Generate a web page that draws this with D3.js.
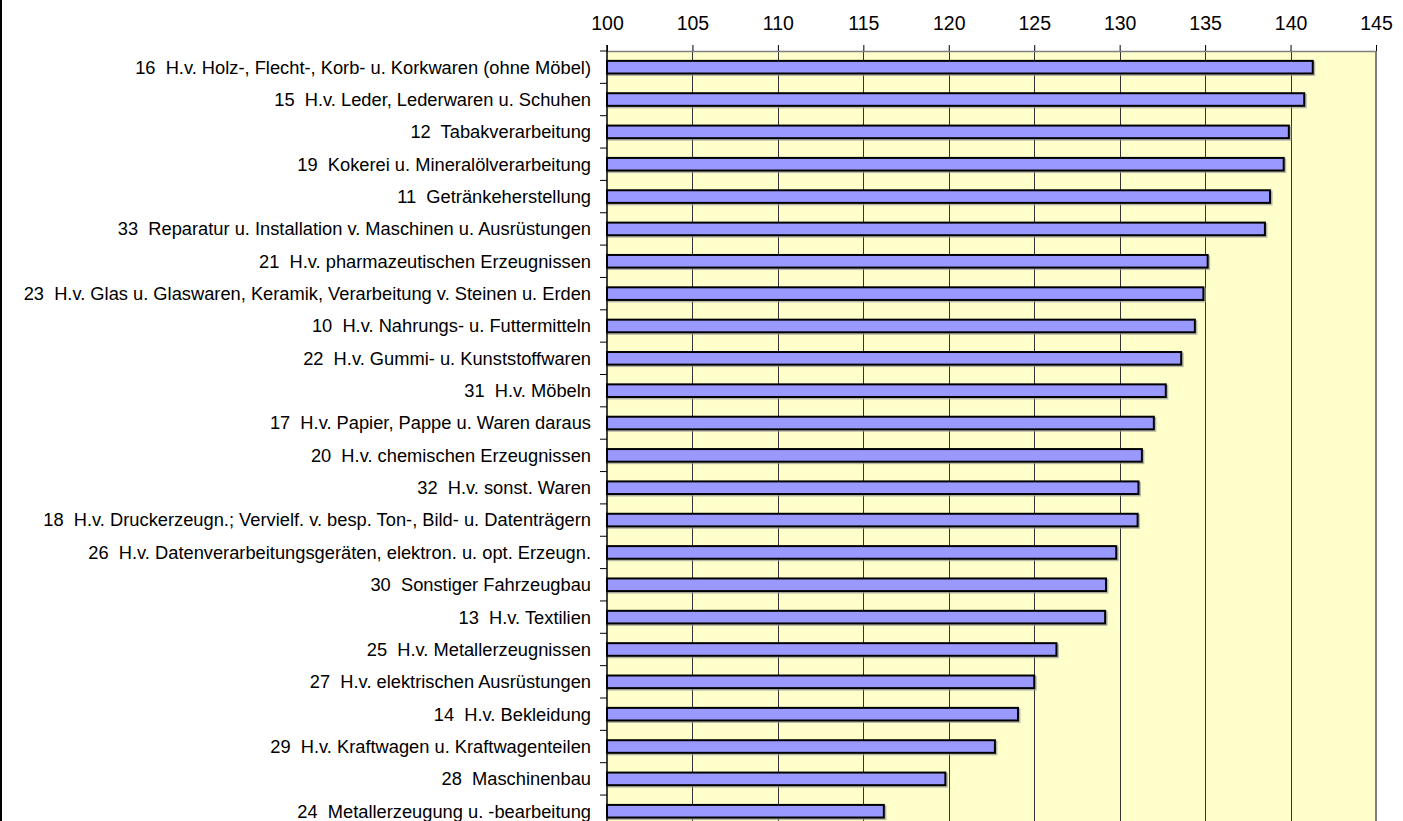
<!DOCTYPE html>
<html><head><meta charset="utf-8">
<script src="https://cdn.jsdelivr.net/npm/d3@7"></script>
<style>body{margin:0;background:#fff;}svg{display:block;font-family:"Liberation Sans",Arial,sans-serif;}</style>
</head><body><svg id="c" width="1403" height="821"></svg>
<script>
const categories = [
"16  H.v. Holz-, Flecht-, Korb- u. Korkwaren (ohne Möbel)",
"15  H.v. Leder, Lederwaren u. Schuhen",
"12  Tabakverarbeitung",
"19  Kokerei u. Mineralölverarbeitung",
"11  Getränkeherstellung",
"33  Reparatur u. Installation v. Maschinen u. Ausrüstungen",
"21  H.v. pharmazeutischen Erzeugnissen",
"23  H.v. Glas u. Glaswaren, Keramik, Verarbeitung v. Steinen u. Erden",
"10  H.v. Nahrungs- u. Futtermitteln",
"22  H.v. Gummi- u. Kunststoffwaren",
"31  H.v. Möbeln",
"17  H.v. Papier, Pappe u. Waren daraus",
"20  H.v. chemischen Erzeugnissen",
"32  H.v. sonst. Waren",
"18  H.v. Druckerzeugn.; Vervielf. v. besp. Ton-, Bild- u. Datenträgern",
"26  H.v. Datenverarbeitungsgeräten, elektron. u. opt. Erzeugn.",
"30  Sonstiger Fahrzeugbau",
"13  H.v. Textilien",
"25  H.v. Metallerzeugnissen",
"27  H.v. elektrischen Ausrüstungen",
"14  H.v. Bekleidung",
"29  H.v. Kraftwagen u. Kraftwagenteilen",
"28  Maschinenbau",
"24  Metallerzeugung u. -bearbeitung"
];
const values = [141.3,140.8,139.9,139.6,138.8,138.5,135.15,134.9,134.4,133.6,132.7,132.0,131.3,131.1,131.05,129.8,129.2,129.15,126.3,125.0,124.05,122.7,119.8,116.2];
const tickValues = [100,105,110,115,120,125,130,135,140,145];

(function(){
const svg = d3.select("#c");
const FONT = "'Liberation Sans', Arial, sans-serif";
const pLeft = 607, pRight = 1376, pTop = 51, band = 32.35;
const pBottom = pTop + band*categories.length;
const x = d3.scaleLinear().domain([100,145]).range([pLeft,pRight]);
const y = d3.scaleBand().domain(categories).range([pTop,pBottom]).paddingInner(0.61).paddingOuter(0.305);

svg.append("line").attr("x1",1).attr("x2",1).attr("y1",0).attr("y2",821).attr("stroke","#000").attr("stroke-width",2);

svg.append("rect").attr("x",pLeft).attr("y",pTop).attr("width",pRight-pLeft).attr("height",pBottom-pTop).attr("fill","#FFFFCC");

svg.append("g").selectAll("line").data(tickValues.slice(1,-1)).join("line")
  .attr("x1",d=>Math.round(x(d))+0.5).attr("x2",d=>Math.round(x(d))+0.5)
  .attr("y1",pTop).attr("y2",pBottom).attr("stroke","#333").attr("stroke-width",1);

svg.append("line").attr("x1",pLeft).attr("x2",pRight).attr("y1",pTop+0.5).attr("y2",pTop+0.5).attr("stroke","#808080").attr("stroke-width",1.5);
svg.append("line").attr("x1",pRight).attr("x2",pRight).attr("y1",pTop).attr("y2",pBottom).attr("stroke","#808080").attr("stroke-width",2);

const xAxis = d3.axisTop(x).tickValues(tickValues).tickSize(6).tickPadding(15.5).tickFormat(d3.format("d"));
const gx = svg.append("g").attr("transform",`translate(0,${pTop})`).call(xAxis);
gx.select(".domain").remove();
gx.selectAll(".tick line").attr("stroke","#000");
gx.selectAll(".tick text").attr("dy",0).attr("font-size",19.5).attr("fill","#000").attr("font-family",FONT);

const bars = svg.append("g");
bars.selectAll("rect.sh").data(categories).join("rect").attr("class","sh")
  .attr("x",pLeft+1.5).attr("y",d=>y(d)+1.5)
  .attr("width",(d,i)=>x(values[i])-pLeft).attr("height",y.bandwidth())
  .attr("fill","none").attr("stroke","#999").attr("stroke-width",2).attr("opacity",0.7);
bars.selectAll("rect.b").data(categories).join("rect").attr("class","b")
  .attr("x",pLeft).attr("y",d=>y(d))
  .attr("width",(d,i)=>x(values[i])-pLeft).attr("height",y.bandwidth())
  .attr("fill","#9999FF").attr("stroke","#000").attr("stroke-width",2);

const yTicks = d3.range(categories.length+1).map(i=>pTop+i*band);
svg.append("g").selectAll("line").data(yTicks).join("line")
  .attr("x1",pLeft-7).attr("x2",pLeft).attr("y1",d=>d).attr("y2",d=>d).attr("stroke","#000").attr("stroke-width",1);
svg.append("line").attr("x1",pLeft).attr("x2",pLeft).attr("y1",pTop-6).attr("y2",pBottom).attr("stroke","#000").attr("stroke-width",1.5);

svg.append("g").selectAll("text").data(categories).join("text")
  .attr("x",pLeft-16).attr("y",d=>y(d)+y.bandwidth()/2).attr("dy","0.35em")
  .attr("text-anchor","end").attr("font-size",18.3).attr("fill","#000").attr("font-family",FONT)
  .style("white-space","pre").text(d=>d);
})();
</script></body></html>
